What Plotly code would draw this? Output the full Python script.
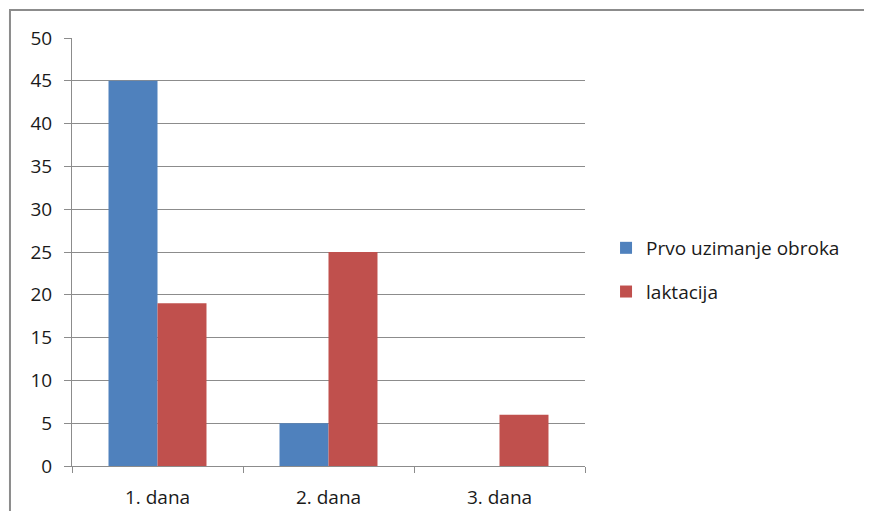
import plotly.graph_objects as go

days = ["1. dana", "2. dana", "3. dana"]
prvo_obrok = [45, 5, 0]
laktacija = [19, 25, 6]

font_fam = "Open Sans, Liberation Sans, sans-serif"

fig = go.Figure()
fig.add_trace(go.Bar(x=days, y=prvo_obrok, name="Prvo uzimanje obroka",
                     marker_color="#4F81BD", marker_line_width=0, legendgroup="a"))
fig.add_trace(go.Bar(x=days, y=laktacija, name="laktacija",
                     marker_color="#C0504D", marker_line_width=0, legendgroup="b"))

# page has an 8px body margin, so the figure is sized to fit inside the window
fig.update_layout(
    width=856, height=503,
    margin=dict(l=64, r=279, t=30, b=45),
    paper_bgcolor="white", plot_bgcolor="white",
    font=dict(family=font_fam, size=19, color="#1a1a1a"),
    barmode="group", bargap=0.427, bargroupgap=0,
    legend=dict(x=1.041, y=0.458, xanchor="left", yanchor="middle",
                traceorder="grouped", tracegroupgap=16,
                font=dict(size=19), itemwidth=30),
    showlegend=True,
)
fig.update_xaxes(showgrid=False, showline=True, linecolor="#8c8c8c", linewidth=1,
                 ticks="outside", tickson="boundaries", ticklen=6, tickcolor="#8c8c8c",
                 ticklabelstandoff=14, automargin=False)
fig.update_yaxes(range=[0, 50], dtick=5, showgrid=True, gridcolor="#8c8c8c", gridwidth=1,
                 showline=True, linecolor="#8c8c8c", linewidth=1, zeroline=False,
                 ticks="outside", ticklen=7, tickcolor="#8c8c8c", ticklabelstandoff=8,
                 automargin=False)

# chart border (left and top edges only; the rest runs off the picture)
fig.add_shape(type="path", xref="paper", yref="paper",
              path="M -0.1209,-0.3 L -0.1209,1.0654 L 1.8,1.0654",
              line=dict(color="#8c8c8c", width=2), layer="below")

fig.write_html("out.html")
